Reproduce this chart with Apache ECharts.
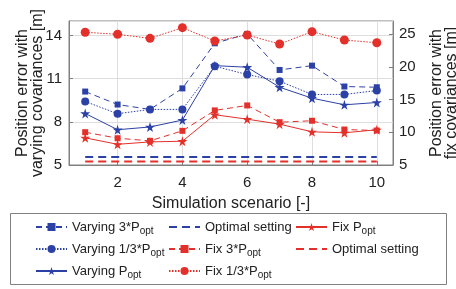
<!DOCTYPE html>
<html>
<head>
<meta charset="utf-8">
<title>Position error</title>
<script src="https://cdn.jsdelivr.net/npm/echarts@6/dist/echarts.min.js"></script>
<style>
  html, body { margin: 0; padding: 0; background: #fff; }
  #chart { width: 456px; height: 289px; }
</style>
</head>
<body>
<div id="chart"></div>
<script>
// scenarios 1..10
var scenarios = [1, 2, 3, 4, 5, 6, 7, 8, 9, 10];

// left axis: varying covariances [m]
var varying3P   = [10.10, 9.20, 8.86, 10.32, 13.45, 14.10, 11.60, 11.90, 10.45, 10.40];
var varying13P  = [9.41, 8.56, 8.86, 8.86, 11.86, 11.28, 10.82, 9.90, 9.90, 10.17];
var varyingP    = [8.58, 7.45, 7.64, 8.12, 11.90, 11.79, 10.40, 9.64, 9.18, 9.34];
var optVarying  = [5.55, 5.55, 5.55, 5.55, 5.55, 5.55, 5.55, 5.55, 5.55, 5.55];

// right axis: fix covariances [m]
var fix3P  = [10.01, 9.09, 8.69, 10.22, 13.34, 14.10, 11.54, 11.76, 10.42, 10.27];
var fix13P = [25.28, 24.97, 24.35, 25.98, 23.94, 24.86, 23.48, 25.37, 24.09, 23.68];
var fixP   = [9.15, 8.16, 8.53, 8.63, 12.68, 12.00, 11.24, 10.07, 9.92, 10.38];
var optFix = [5.55, 5.55, 5.55, 5.55, 5.55, 5.55, 5.55, 5.55, 5.55, 5.55];

var leftTicks = [5, 8, 11, 14];
var rightTicks = [5, 10, 15, 20, 25];

var blue = '#2c41a6';
var red = '#e4302b';
var star = 'path://M50,0 L61,35 L98,35 L68,57 L79,91 L50,70 L21,91 L32,57 L2,35 L39,35 Z';
var font = 'Liberation Sans, Arial, sans-serif';

function pairs(vals) {
    return scenarios.map(function (s, i) { return [s, vals[i]]; });
}

var labels = {
    'Varying 3*P': 'Varying 3*P{sub|opt}',
    'Varying 1/3*P': 'Varying 1/3*P{sub|opt}',
    'Varying P': 'Varying P{sub|opt}',
    'Optimal setting (varying)': 'Optimal setting',
    'Fix 3*P': 'Fix 3*P{sub|opt}',
    'Fix 1/3*P': 'Fix 1/3*P{sub|opt}',
    'Fix P': 'Fix P{sub|opt}',
    'Optimal setting (fix)': 'Optimal setting'
};

function legendAt(left, names) {
    return {
        orient: 'vertical',
        left: left,
        top: 218,
        padding: 0,
        itemWidth: 31,
        itemHeight: 10,
        itemGap: 4,
        selectedMode: false,
        data: names,
        formatter: function (n) { return labels[n]; },
        textStyle: {
            fontFamily: font,
            fontSize: 13,
            color: '#222',
            lineHeight: 18,
            rich: {
                sub: { fontFamily: font, fontSize: 10, color: '#222', padding: [8, 0, 0, 0] }
            }
        }
    };
}

function dataSeries(name, vals, axis, color, type, symbol, size) {
    return {
        name: name,
        type: 'line',
        yAxisIndex: axis,
        data: pairs(vals),
        symbol: symbol,
        symbolSize: size,
        showSymbol: true,
        lineStyle: { color: color, width: 1, type: type },
        itemStyle: { color: color },
        emphasis: { disabled: true },
        animation: false
    };
}

// dashed reference line, no markers (transparent symbol keeps the legend icon a plain line)
function optimalSeries(name, vals, axis, color) {
    var s = dataSeries(name, vals, axis, color, [8, 5], 'circle', 0);
    s.showSymbol = false;
    s.lineStyle.width = 2;
    s.itemStyle = { color: 'rgba(0,0,0,0)' };
    return s;
}

var chart = echarts.init(document.getElementById('chart'));
var option = {
    animation: false,
    grid: {
        left: 69, right: 63, top: 21, bottom: 124,
        outerBoundsMode: 'none',
        show: true, borderColor: '#808080', borderWidth: 1
    },
    xAxis: {
        type: 'value',
        min: 0.5,
        max: 10.5,
        splitNumber: 5,
        name: 'Simulation scenario [-]',
        nameLocation: 'middle',
        nameGap: 31,
        nameTextStyle: { fontFamily: font, fontSize: 16, color: '#222' },
        axisLine: { lineStyle: { color: '#808080' } },
        axisTick: { inside: true, length: 4, lineStyle: { color: '#808080' } },
        splitLine: { show: true, lineStyle: { color: '#dedede' } },
        axisLabel: {
            fontFamily: font, fontSize: 15, color: '#222', margin: 10,
            formatter: function (v) { return v % 2 === 0 ? String(v) : ''; }
        }
    },
    yAxis: [
        {
            type: 'value',
            position: 'left',
            min: 5,
            max: 15,
            interval: 3,
            name: 'Position error with\nvarying covariances [m]',
            nameLocation: 'middle',
            nameRotate: 90,
            nameGap: 24,
            nameMoveOverlap: false,
            nameTextStyle: { fontFamily: font, fontSize: 16, color: '#222', lineHeight: 15 },
            axisLine: { show: true, lineStyle: { color: '#808080' } },
            axisTick: { show: true, inside: true, length: 4, lineStyle: { color: '#808080' } },
            splitLine: { show: true, lineStyle: { color: '#dedede' } },
            axisLabel: {
                fontFamily: font, fontSize: 15, color: '#222', margin: 7,
                showMaxLabel: false,
                formatter: function (v) { return leftTicks.indexOf(v) >= 0 ? String(v) : ''; }
            }
        },
        {
            type: 'value',
            position: 'right',
            min: 5,
            max: 27,
            interval: 5,
            name: 'Position error with\nfix covariances [m]',
            nameLocation: 'middle',
            nameRotate: 90,
            nameGap: 36,
            nameMoveOverlap: false,
            nameTextStyle: { fontFamily: font, fontSize: 16, color: '#222', lineHeight: 15 },
            axisLine: { show: true, lineStyle: { color: '#808080' } },
            axisTick: { show: true, inside: true, length: 4, lineStyle: { color: '#808080' } },
            splitLine: { show: false },
            axisLabel: {
                fontFamily: font, fontSize: 15, color: '#222', margin: 6,
                showMaxLabel: false,
                formatter: function (v) { return rightTicks.indexOf(v) >= 0 ? String(v) : ''; }
            }
        }
    ],
    legend: [
        legendAt(35, ['Varying 3*P', 'Varying 1/3*P', 'Varying P']),
        legendAt(168, ['Optimal setting (varying)', 'Fix 3*P', 'Fix 1/3*P']),
        legendAt(295, ['Fix P', 'Optimal setting (fix)'])
    ],
    graphic: [{
        type: 'rect',
        shape: { x: 10.5, y: 213.5, width: 436, height: 71 },
        style: { fill: 'none', stroke: '#808080', lineWidth: 1 },
        silent: true
    }],
    series: [
        dataSeries('Varying 3*P', varying3P, 0, blue, [6, 4], 'rect', 6),
        dataSeries('Varying 1/3*P', varying13P, 0, blue, [1.5, 1.5], 'circle', 8),
        dataSeries('Varying P', varyingP, 0, blue, 'solid', star, 10),
        optimalSeries('Optimal setting (varying)', optVarying, 0, blue),
        dataSeries('Fix 3*P', fix3P, 1, red, [6, 4], 'rect', 6),
        dataSeries('Fix 1/3*P', fix13P, 1, red, [1.5, 1.5], 'circle', 9),
        dataSeries('Fix P', fixP, 1, red, 'solid', star, 10),
        optimalSeries('Optimal setting (fix)', optFix, 1, red)
    ]
};
chart.setOption(option);
</script>
</body>
</html>
